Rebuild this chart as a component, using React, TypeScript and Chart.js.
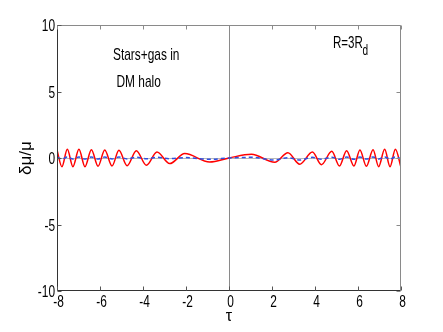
import { useEffect, useRef } from "react";
import { Chart, registerables } from "chart.js";

Chart.register(...registerables);

// tau positions and curve values
const tauPoints = [
  -8.0, -7.77, -7.52, -7.26, -6.98, -6.7, -6.4, -6.09, -5.78, -5.44, -5.12, -4.74, -4.31, -3.84,
  -3.35, -2.76, -2.06, -0.9, 0, 1.04, 2.13, 2.74, 3.29, 3.88, 4.3, 4.78, 5.14, 5.47, 5.81, 6.09,
  6.39, 6.7, 6.96, 7.24, 7.49, 7.74, 8.0,
];
const redValues = [
  0.6, -0.65, 0.65, -0.65, 0.65, -0.65, 0.62, -0.62, 0.6, -0.6, 0.58, -0.58, 0.55, -0.55, 0.45,
  -0.42, 0.33, -0.3, 0, 0.28, -0.32, 0.4, -0.47, 0.45, -0.5, 0.5, -0.6, 0.55, -0.6, 0.6, -0.62,
  0.62, -0.65, 0.65, -0.65, 0.65, -0.7,
];
const blueValues = [
  0.08, -0.08, 0.08, -0.08, 0.08, -0.08, 0.08, -0.08, 0.07, -0.07, 0.07, -0.07, 0.06, -0.06, 0.05,
  -0.05, 0.03, -0.1, 0, 0.05, -0.15, 0.02, -0.15, 0.05, -0.1, 0.06, -0.1, 0.07, -0.1, 0.07, -0.08,
  0.08, -0.08, 0.08, -0.08, 0.08, -0.08,
];
const xRange = [-8, 8];
const yRange = [-10, 10];
const xStep = 2;
const yStep = 5;
const yTitle = "δμ/μ";
const xTitle = "τ";
const note1 = "Stars+gas in";
const note2 = "DM halo";
const noteR = "R=3R";
const noteRsub = "d";

const FONT = '"Liberation Sans", Arial, Helvetica, sans-serif';
const SQ = 0.7;

function ctext(
  ctx: CanvasRenderingContext2D,
  s: string,
  x: number,
  y: number,
  size: number,
  align: CanvasTextAlign,
  baseline: CanvasTextBaseline,
  sx = SQ
) {
  ctx.save();
  ctx.translate(x, y);
  ctx.scale(sx, 1);
  ctx.font = `${size}px ${FONT}`;
  ctx.textAlign = align;
  ctx.textBaseline = baseline;
  ctx.fillStyle = "#000";
  ctx.fillText(s, 0, 0);
  ctx.restore();
}

function fmt(v: number) {
  return v < 0 ? "-" + Math.abs(v) : String(v);
}

const framePlugin = {
  id: "frame",
  beforeDatasetsDraw(chart: any) {
    const { ctx, chartArea: a, scales } = chart;
    const x0 = Math.round(scales.x.getPixelForValue(0)) + 0.5;
    const y0 = Math.round(scales.y.getPixelForValue(0)) + 0.5;
    ctx.save();
    ctx.lineWidth = 1;
    ctx.strokeStyle = "#b8b8b8";
    ctx.beginPath();
    ctx.moveTo(a.left, y0);
    ctx.lineTo(a.right, y0);
    ctx.stroke();
    ctx.strokeStyle = "#8a8a8a";
    ctx.beginPath();
    ctx.moveTo(x0, a.top);
    ctx.lineTo(x0, a.bottom);
    ctx.stroke();
    ctx.restore();
  },
  afterDraw(chart: any) {
    const { ctx, chartArea: a, scales } = chart;
    const L = Math.round(a.left) + 0.5;
    const R = Math.round(a.right) - 0.5;
    const T = Math.round(a.top) + 0.5;
    const B = Math.round(a.bottom) - 0.5;
    ctx.save();
    ctx.lineWidth = 1;
    ctx.strokeStyle = "#8a8a8a";
    ctx.beginPath();
    ctx.moveTo(L, T);
    ctx.lineTo(R, T);
    ctx.lineTo(R, B);
    ctx.stroke();
    ctx.strokeStyle = "#333";
    ctx.beginPath();
    ctx.moveTo(L, T);
    ctx.lineTo(L, B);
    ctx.lineTo(R, B);
    ctx.stroke();
    const tl = 4;
    for (const t of scales.x.ticks) {
      const px = Math.round(scales.x.getPixelForValue(t.value)) + 0.5;
      ctx.strokeStyle = "#555";
      ctx.beginPath();
      ctx.moveTo(px, B);
      ctx.lineTo(px, B - tl);
      ctx.stroke();
      ctx.strokeStyle = "#8a8a8a";
      ctx.beginPath();
      ctx.moveTo(px, T);
      ctx.lineTo(px, T + tl);
      ctx.stroke();
      ctext(ctx, fmt(t.value), px + 1, a.bottom + 3, 17, "center", "top");
    }
    for (const t of scales.y.ticks) {
      const py = Math.round(scales.y.getPixelForValue(t.value)) + 0.5;
      ctx.strokeStyle = "#555";
      ctx.beginPath();
      ctx.moveTo(L, py);
      ctx.lineTo(L + tl, py);
      ctx.stroke();
      ctx.strokeStyle = "#8a8a8a";
      ctx.beginPath();
      ctx.moveTo(R, py);
      ctx.lineTo(R - tl, py);
      ctx.stroke();
      ctext(ctx, fmt(t.value), a.left - 2, py + 1, 17, "right", "middle");
    }
    ctx.save();
    ctx.translate(26, (a.top + a.bottom) / 2);
    ctx.rotate(-Math.PI / 2);
    ctx.font = `17px ${FONT}`;
    ctx.textAlign = "center";
    ctx.textBaseline = "middle";
    ctx.fillStyle = "#000";
    ctx.fillText(yTitle, 0, 0);
    ctx.restore();
    ctext(ctx, xTitle, (a.left + a.right) / 2, 317, 16, "center", "middle", 1);
    ctext(ctx, note1, 113, 60, 17, "left", "alphabetic", 0.7);
    ctext(ctx, note2, 116.5, 87, 17, "left", "alphabetic", 0.7);
    ctext(ctx, noteR, 333, 48, 17, "left", "alphabetic", 0.68);
    ctext(ctx, noteRsub, 362.5, 55, 14, "left", "alphabetic", 0.72);
    ctx.restore();
  },
};

export default function App() {
  const ref = useRef<HTMLCanvasElement | null>(null);
  useEffect(() => {
    document.body.style.margin = "0";
    const canvas = ref.current;
    if (!canvas) return;
    const chart = new Chart(canvas, {
      type: "line",
      data: {
        datasets: [
          {
            data: tauPoints.map((t, i) => ({ x: t, y: blueValues[i] })),
            borderColor: "#2f4fe0",
            borderWidth: 1.5,
            borderDash: [4, 3],
            pointRadius: 0,
            cubicInterpolationMode: "monotone",
          },
          {
            data: tauPoints.map((t, i) => ({ x: t, y: redValues[i] })),
            borderColor: "#ff0000",
            borderWidth: 1.5,
            pointRadius: 0,
            cubicInterpolationMode: "monotone",
          },
        ],
      },
      options: {
        animation: false,
        responsive: false,
        devicePixelRatio: 1,
        layout: { padding: { top: 25, right: 42, left: 0, bottom: 0 } },
        plugins: { legend: { display: false }, tooltip: { enabled: false } },
        scales: {
          x: {
            type: "linear",
            min: xRange[0],
            max: xRange[1],
            ticks: { stepSize: xStep, display: false },
            grid: { display: false, drawTicks: false },
            border: { display: false },
            afterFit: (s: any) => {
              s.height = 41;
            },
          },
          y: {
            type: "linear",
            min: yRange[0],
            max: yRange[1],
            ticks: { stepSize: yStep, display: false },
            grid: { display: false, drawTicks: false },
            border: { display: false },
            afterFit: (s: any) => {
              s.width = 57;
            },
          },
        },
      },
      plugins: [framePlugin],
    } as any);
    return () => chart.destroy();
  }, []);
  return (
    <div style={{ position: "fixed", left: 0, top: 0, width: 443, height: 332, background: "#fff" }}>
      <canvas ref={ref} width={443} height={332} style={{ display: "block" }} />
    </div>
  );
}
